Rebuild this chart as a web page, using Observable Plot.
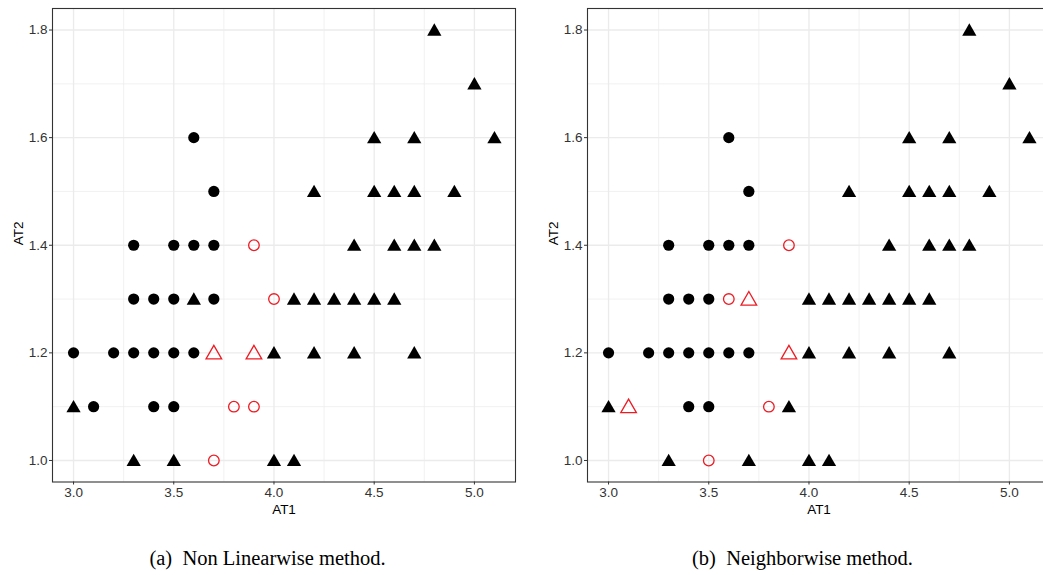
<!DOCTYPE html>
<html><head><meta charset="utf-8">
<script src="https://cdn.jsdelivr.net/npm/d3@7"></script>
<script src="https://cdn.jsdelivr.net/npm/@observablehq/plot@0.6"></script>
<style>
body{margin:0;background:#fff;}
#wrap{position:relative;width:1043px;height:575px;overflow:hidden;background:#fff;}
.panel{position:absolute;top:0;}
.cap{position:absolute;top:546px;width:535px;text-align:center;font-family:"Liberation Serif","Times New Roman",serif;font-size:20.5px;line-height:24px;white-space:pre;color:#000;}
</style></head><body>
<div id="wrap"></div>
<script>
// Tick values
const xTicks = [3.0, 3.5, 4.0, 4.5, 5.0];
const yTicks = [1.0, 1.2, 1.4, 1.6, 1.8];
const xMinor = [3.25, 3.75, 4.25, 4.75];
const yMinor = [1.1, 1.3, 1.5, 1.7];

// Panel (a): Non Linearwise method  [AT1, AT2]
const aBlackCircles = [[3.6,1.6],[3.7,1.5],[3.3,1.4],[3.5,1.4],[3.6,1.4],[3.7,1.4],
  [3.3,1.3],[3.4,1.3],[3.5,1.3],[3.7,1.3],
  [3.0,1.2],[3.2,1.2],[3.3,1.2],[3.4,1.2],[3.5,1.2],[3.6,1.2],
  [3.1,1.1],[3.4,1.1],[3.5,1.1]];
const aBlackTriangles = [[4.8,1.8],[5.0,1.7],[4.5,1.6],[4.7,1.6],[5.1,1.6],
  [4.2,1.5],[4.5,1.5],[4.6,1.5],[4.7,1.5],[4.9,1.5],
  [4.4,1.4],[4.6,1.4],[4.7,1.4],[4.8,1.4],
  [3.6,1.3],[4.1,1.3],[4.2,1.3],[4.3,1.3],[4.4,1.3],[4.5,1.3],[4.6,1.3],
  [4.0,1.2],[4.2,1.2],[4.4,1.2],[4.7,1.2],
  [3.0,1.1],
  [3.3,1.0],[3.5,1.0],[4.0,1.0],[4.1,1.0]];
const aRedCircles = [[3.9,1.4],[4.0,1.3],[3.8,1.1],[3.9,1.1],[3.7,1.0]];
const aRedTriangles = [[3.7,1.2],[3.9,1.2]];

// Panel (b): Neighborwise method  [AT1, AT2]
const bBlackCircles = [[3.6,1.6],[3.7,1.5],[3.3,1.4],[3.5,1.4],[3.6,1.4],[3.7,1.4],
  [3.3,1.3],[3.4,1.3],[3.5,1.3],
  [3.0,1.2],[3.2,1.2],[3.3,1.2],[3.4,1.2],[3.5,1.2],[3.6,1.2],[3.7,1.2],
  [3.4,1.1],[3.5,1.1]];
const bBlackTriangles = [[4.8,1.8],[5.0,1.7],[4.5,1.6],[4.7,1.6],[5.1,1.6],
  [4.2,1.5],[4.5,1.5],[4.6,1.5],[4.7,1.5],[4.9,1.5],
  [4.4,1.4],[4.6,1.4],[4.7,1.4],[4.8,1.4],
  [4.0,1.3],[4.1,1.3],[4.2,1.3],[4.3,1.3],[4.4,1.3],[4.5,1.3],[4.6,1.3],
  [4.0,1.2],[4.2,1.2],[4.4,1.2],[4.7,1.2],
  [3.0,1.1],[3.9,1.1],
  [3.3,1.0],[3.7,1.0],[4.0,1.0],[4.1,1.0]];
const bRedCircles = [[3.9,1.4],[3.6,1.3],[3.8,1.1],[3.5,1.0]];
const bRedTriangles = [[3.7,1.3],[3.9,1.2],[3.1,1.1]];

const captions = ["(a)  Non Linearwise method.", "(b)  Neighborwise method."];

const FONT = '"Liberation Sans", Arial, Helvetica, sans-serif';
const RED = "#ec1c24";

function panel(bc, bt, rc, rt) {
  return Plot.plot({
    width: 535, height: 525,
    marginLeft: 52, marginRight: 20, marginTop: 8, marginBottom: 43.5,
    style: {fontFamily: FONT, background: "#fff", overflow: "visible"},
    x: {domain: [2.895, 5.205]},
    y: {domain: [0.96, 1.84]},
    marks: [
      Plot.gridX(xMinor, {stroke: "#ebebeb", strokeOpacity: 1, strokeWidth: 0.7}),
      Plot.gridY(yMinor, {stroke: "#ebebeb", strokeOpacity: 1, strokeWidth: 0.7}),
      Plot.gridX(xTicks, {stroke: "#ebebeb", strokeOpacity: 1, strokeWidth: 1.3}),
      Plot.gridY(yTicks, {stroke: "#ebebeb", strokeOpacity: 1, strokeWidth: 1.3}),
      Plot.dot(bc, {x: d => d[0], y: d => d[1], r: 5.6, fill: "#000", stroke: "none"}),
      Plot.dot(bt, {x: d => d[0], y: d => d[1], r: 5.3, symbol: "triangle", fill: "#000", stroke: "none", dy: 1.5}),
      Plot.dot(rc, {x: d => d[0], y: d => d[1], r: 5.3, fill: "none", stroke: RED, strokeWidth: 1.3}),
      Plot.dot(rt, {x: d => d[0], y: d => d[1], r: 5.8, symbol: "triangle", fill: "none", stroke: RED, strokeWidth: 1.3, dy: 1.5}),
      Plot.frame({stroke: "#333", strokeWidth: 1.1}),
      Plot.axisX(xTicks, {tickFormat: d => d.toFixed(1), tickSize: 3, tickPadding: 2, fontSize: 13.5, stroke: "#333", fill: "#333", label: null}),
      Plot.axisY(yTicks, {tickFormat: d => d.toFixed(1), tickSize: 3, tickPadding: 2, fontSize: 13.5, stroke: "#333", fill: "#333", label: null}),
      Plot.text(["AT1"], {frameAnchor: "bottom", dy: 27.5, text: d => d, fontSize: 13.5, fill: "#000", lineAnchor: "middle"}),
      Plot.text(["AT2"], {frameAnchor: "left", dx: -34, text: d => d, fontSize: 13.5, fill: "#000", rotate: -90, lineAnchor: "middle"})
    ]
  });
}

const wrap = document.getElementById("wrap");
const p1 = panel(aBlackCircles, aBlackTriangles, aRedCircles, aRedTriangles);
const p2 = panel(bBlackCircles, bBlackTriangles, bRedCircles, bRedTriangles);
p1.classList.add("panel"); p1.style.left = "0px";
p2.classList.add("panel"); p2.style.left = "535px";
wrap.appendChild(p1); wrap.appendChild(p2);
captions.forEach((c, i) => {
  const d = document.createElement("div");
  d.className = "cap";
  d.style.left = (i * 535) + "px";
  d.textContent = c;
  wrap.appendChild(d);
});
</script>
</body></html>
